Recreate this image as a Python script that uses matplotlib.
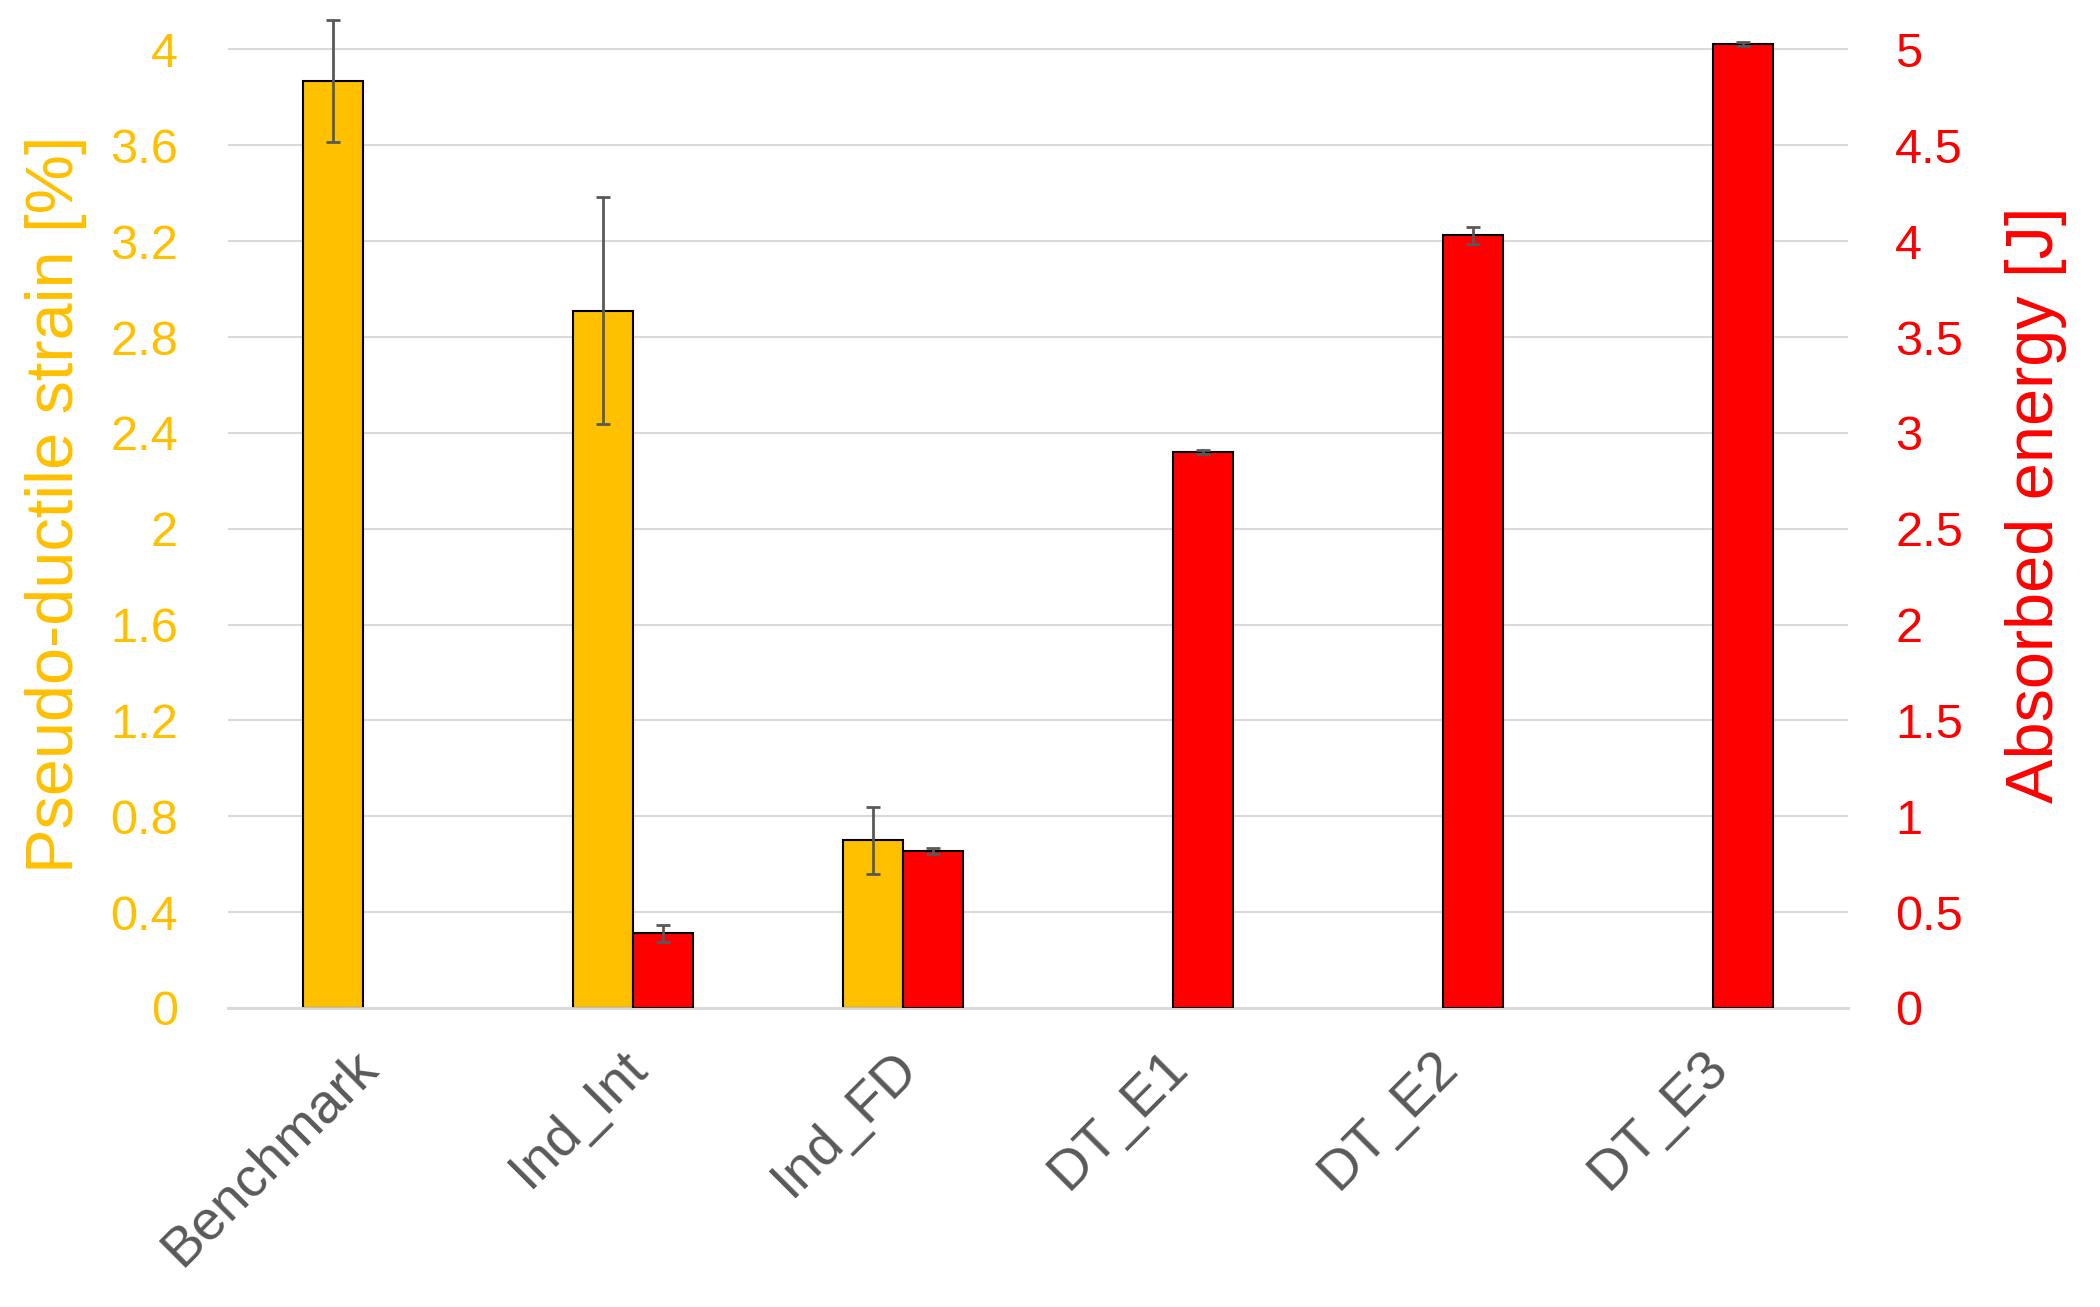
import numpy as np
import matplotlib
matplotlib.use('Agg')
import matplotlib.pyplot as plt
import matplotlib.transforms as mtransforms

plt.rcParams['font.family'] = ['Liberation Sans', 'DejaVu Sans']

categories = ['Benchmark', 'Ind_Int', 'Ind_FD', 'DT_E1', 'DT_E2', 'DT_E3']
strain = [3.87, 2.91, 0.70, np.nan, np.nan, np.nan]
strain_err = [0.255, 0.475, 0.14, np.nan, np.nan, np.nan]
energy = [np.nan, 0.39, 0.82, 2.90, 4.03, 5.03]
energy_err = [np.nan, 0.045, 0.015, 0.01, 0.045, 0.01]

left_ticks = [0, 0.4, 0.8, 1.2, 1.6, 2, 2.4, 2.8, 3.2, 3.6, 4]
right_ticks = [0, 0.5, 1, 1.5, 2, 2.5, 3, 3.5, 4, 4.5, 5]

yellow = '#FFC000'
red = '#FF0000'
grey = '#595959'

fig = plt.figure(figsize=(21, 13.07), dpi=100)
ax1 = fig.add_axes([0.1086, 0.2288, 0.7714, 0.77])
ax2 = ax1.twinx()

x = np.arange(len(categories))
w = 0.223

ax1.bar(x - w / 2, strain, w, color=yellow, edgecolor='black', linewidth=1.5,
        yerr=strain_err, ecolor=grey, capsize=5,
        error_kw=dict(elinewidth=2, capthick=2), zorder=3)
ax2.bar(x + w / 2, energy, w, color=red, edgecolor='black', linewidth=1.5,
        yerr=energy_err, ecolor=grey, capsize=5,
        error_kw=dict(elinewidth=2, capthick=2), zorder=3)

ax1.set_xlim(-0.5, len(categories) - 0.5)
ax1.set_ylim(0, 4.2)
ax2.set_ylim(0, 5.25)

ax1.set_yticks(left_ticks)
ax1.set_yticklabels([f'{v:g}' for v in left_ticks])
ax2.set_yticks(right_ticks)
ax2.set_yticklabels([f'{v:g}' for v in right_ticks])

ax1.yaxis.grid(True, color='#D9D9D9', linewidth=1.5, zorder=0)
ax1.set_axisbelow(True)

for ax in (ax1, ax2):
    for s in ('top', 'left', 'right'):
        ax.spines[s].set_visible(False)
    ax.spines['bottom'].set_color('#D9D9D9')
    ax.spines['bottom'].set_linewidth(2)

ax1.tick_params(axis='y', length=0, labelsize=35, labelcolor=yellow, pad=36)
ax2.tick_params(axis='y', length=0, labelsize=35, labelcolor=red, pad=34)
ax1.tick_params(axis='x', length=0, labelsize=40, labelcolor=grey, pad=24)

ax1.set_xticks(x)
ax1.set_xticklabels(categories, rotation=45, ha='right', rotation_mode='anchor')
shift = mtransforms.ScaledTranslation(-12 / 100, 0, fig.dpi_scale_trans)
for lab in ax1.get_xticklabels():
    lab.set_transform(lab.get_transform() + shift)

ax1.set_ylabel('Pseudo-ductile strain [%]', fontsize=48, color=yellow)
ax1.yaxis.set_label_coords(-0.087, 0.5)
ax2.set_ylabel('Absorbed energy [J]', fontsize=48, color=red, rotation=90)
ax2.yaxis.set_label_coords(1.097, 0.5)

fig.savefig('out.png', dpi=100)
